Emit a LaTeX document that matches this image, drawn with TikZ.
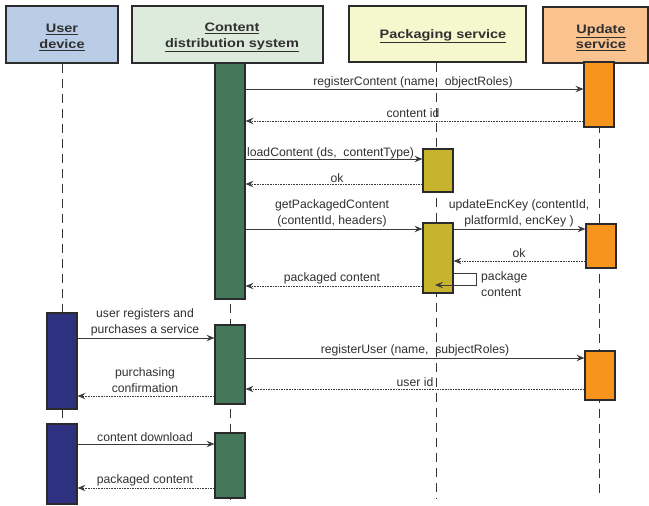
\documentclass[tikz,border=0pt]{standalone}
\usepackage{fontspec}
\setmainfont{Liberation Sans}
\newfontfamily\hdrfont[FakeStretch=1.18]{Liberation Sans}
\usetikzlibrary{arrows.meta}
\definecolor{edge}{HTML}{2B2B2B}
\definecolor{txt}{HTML}{303030}
\definecolor{arrc}{HTML}{3A3A3A}
\definecolor{lifec}{HTML}{333333}
\definecolor{hblue}{HTML}{B9CDE6}
\definecolor{hgreen}{HTML}{DDEBDC}
\definecolor{hyellow}{HTML}{F5F7CC}
\definecolor{horange}{HTML}{FBC38F}
\definecolor{bblue}{HTML}{2E3180}
\definecolor{bgreen}{HTML}{45775A}
\definecolor{byellow}{HTML}{C8B32F}
\definecolor{borange}{HTML}{F7941E}
\begin{document}
\begin{tikzpicture}[x=1pt,y=-1pt,
  hdr/.style={draw=edge, line width=1.3pt, inner sep=0pt},
  htxt/.style={inner sep=0pt, align=center, text=txt,
    font=\hdrfont\bfseries\fontsize{12.3}{15.5}\selectfont},
  bar/.style={draw=edge, line width=1.2pt, inner sep=0pt, minimum width=30pt},
  life/.style={draw=lifec, line width=0.8pt, dash pattern=on 9pt off 6pt},
  msg/.style={draw=arrc, line width=0.85pt, -{Stealth[length=8pt,width=6.5pt,inset=3pt]}},
  ret/.style={msg, dash pattern=on 1.6pt off 1pt},
  lbl/.style={font=\fontsize{12.2}{16}\selectfont, text=txt, inner sep=0pt, align=center}]
\useasboundingbox (0,0) rectangle (649,506);

% header boxes
\node[hdr, fill=hblue, minimum width=112pt, minimum height=57pt] (hud) at (62,34.5) {};
\node[hdr, fill=hgreen, minimum width=191pt, minimum height=57pt] (hcds) at (227.5,34.5) {};
\node[hdr, fill=hyellow, minimum width=177pt, minimum height=56pt] (hps) at (437.5,34) {};
\node[hdr, fill=horange, minimum width=105pt, minimum height=56pt] (hus) at (595.5,35) {};
\node[htxt] (tud) at (62,37.5) {\underline{User}\\\underline{device}};
\node[htxt] (tcds) at (232,37.5) {\underline{Content}\\\underline{distribution system}};
\node[htxt] (tps) at (443,36.5) {\underline{Packaging service}};
\node[htxt] (tus) at (601,37.5) {\underline{Update}\\\underline{service}};

% lifelines
\coordinate (endud) at (62,500);
\coordinate (endcds) at (230,500);
\coordinate (endps) at (436,498);
\coordinate (endus) at (599,498);
\draw[life] (hud.south) -- (endud);
\draw[life] (hcds.south -| endcds) -- (endcds);
\draw[life] (hps.south -| endps) -- (endps);
\draw[life] (hus.south -| endus) -- (endus);

% activation bars
\node[bar, fill=bgreen, minimum height=236pt] (cds1) at (230,181) {};
\node[bar, fill=borange, minimum height=65pt] (us1) at (599,94.5) {};
\node[bar, fill=byellow, minimum height=43pt] (ps1) at (438,170.5) {};
\node[bar, fill=byellow, minimum height=70pt] (ps2) at (438,258) {};
\node[bar, fill=borange, minimum height=44pt] (us2) at (601,246) {};
\node[bar, fill=bblue, minimum height=96pt] (ud1) at (62,361) {};
\node[bar, fill=bgreen, minimum height=79pt] (cds2) at (230,364.5) {};
\node[bar, fill=borange, minimum height=49pt] (us3) at (600,375.5) {};
\node[bar, fill=bblue, minimum height=80pt] (ud2) at (62,464) {};
\node[bar, fill=bgreen, minimum height=65pt] (cds3) at (230,465.5) {};

% message levels
\coordinate (y1) at (0,89);
\coordinate (y2) at (0,121);
\coordinate (y3) at (0,159);
\coordinate (y4) at (0,184);
\coordinate (y5) at (0,229);
\coordinate (y6) at (0,261);
\coordinate (y7) at (0,286);
\coordinate (y8) at (0,338);
\coordinate (y9) at (0,358);
\coordinate (y10) at (0,389);
\coordinate (y11) at (0,396);
\coordinate (y12) at (0,444);
\coordinate (y13) at (0,488);
\coordinate (s1) at (476,273);
\coordinate (s2) at (476,285);
\coordinate (s3) at (435,285);

% messages
\draw[msg] (cds1.east |- y1) -- (us1.west |- y1);
\draw[ret] (us1.west |- y2) -- (cds1.east |- y2);
\draw[msg] (cds1.east |- y3) -- (ps1.west |- y3);
\draw[ret] (ps1.west |- y4) -- (cds1.east |- y4);
\draw[msg] (cds1.east |- y5) -- (ps2.west |- y5);
\draw[msg] (ps2.east |- y5) -- (us2.west |- y5);
\draw[ret] (us2.west |- y6) -- (ps2.east |- y6);
\draw[msg] (ps2.east |- s1) -- (s1) -- (s2) -- (s3);
\draw[ret] (ps2.west |- y7) -- (cds1.east |- y7);
\draw[msg] (ud1.east |- y8) -- (cds2.west |- y8);
\draw[msg] (cds2.east |- y9) -- (us3.west |- y9);
\draw[ret] (us3.west |- y10) -- (cds2.east |- y10);
\draw[ret] (cds2.west |- y11) -- (ud1.east |- y11);
\draw[msg] (ud2.east |- y12) -- (cds3.west |- y12);
\draw[ret] (cds3.west |- y13) -- (ud2.east |- y13);

% labels
\node[lbl] (t1) at (413,82) {registerContent (name,\ \ objectRoles)};
\node[lbl] (t2) at (413,113) {content id};
\node[lbl, anchor=west] (t3) at (247,153) {loadContent (ds,\ \ contentType)};
\node[lbl] (t4) at (337,178) {ok};
\node[lbl] (t5) at (332,213.5) {getPackagedContent\\(contentId, headers)};
\node[lbl] (t6) at (519,213.5) {updateEncKey (contentId,\\platformId, encKey )};
\node[lbl] (t7) at (519,253) {ok};
\node[lbl, align=left, anchor=west] (t8) at (481,284) {package\\content};
\node[lbl] (t9) at (332,278) {packaged content};
\node[lbl] (t10) at (145,322) {user registers and\\purchases a service};
\node[lbl] (t11) at (415,350) {registerUser (name,\ \ subjectRoles)};
\node[lbl] (t12) at (415,382) {user id};
\node[lbl] (t13) at (145,380.5) {purchasing\\confirmation};
\node[lbl] (t14) at (145,437) {content download};
\node[lbl] (t15) at (145,480) {packaged content};
\end{tikzpicture}
\end{document}
